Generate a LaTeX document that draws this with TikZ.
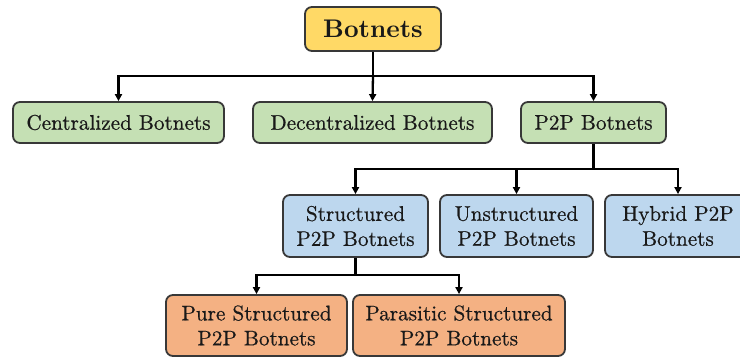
\documentclass[tikz,border=0pt]{standalone}
\usepackage{fontspec}
\setmainfont{lmroman10-regular.otf}[BoldFont=lmroman10-bold.otf, UprightFeatures={FakeBold=0.6}]
\usetikzlibrary{arrows.meta}
\definecolor{cyellow}{HTML}{FFD966}
\definecolor{cgreen}{HTML}{C5E0B4}
\definecolor{cblue}{HTML}{BDD7EE}
\definecolor{corange}{HTML}{F4B183}
\definecolor{cborder}{HTML}{383838}
\begin{document}
\begin{tikzpicture}[x=1pt,y=-1pt,
  box/.style={draw=cborder, line width=1.8pt, rounded corners=7pt, align=center,
    inner sep=0pt, font=\fontsize{21.2}{25}\selectfont, text=black!90},
  gbox/.style={box, fill=cgreen, minimum height=41pt},
  bbox/.style={box, fill=cblue, minimum height=62pt},
  obox/.style={box, fill=corange, minimum height=61pt},
  ln/.style={line width=2.3pt, black},
  arr/.style={ln, -{Triangle[length=7pt,width=7pt]}}]
\useasboundingbox (0,0) rectangle (740,358);
\node[box, fill=cyellow, minimum width=136pt, minimum height=44pt,
  font=\fontsize{25.5}{30}\selectfont\bfseries] (top) at (373,29) {Botnets};
\node[gbox, minimum width=211pt] (cen) at (118.5,122.5) {Centralized Botnets};
\node[gbox, minimum width=239pt] (dec) at (372.5,122.5) {Decentralized Botnets};
\node[gbox, minimum width=145pt] (p2p) at (593.5,122.5) {P2P Botnets};
\node[bbox, minimum width=145pt] (str) at (355.5,226) {Structured\\P2P Botnets};
\node[bbox, minimum width=153pt] (uns) at (516.5,226) {Unstructured\\P2P Botnets};
\node[bbox, minimum width=146pt] (hyb) at (678,226) {Hybrid P2P\\Botnets};
\node[obox, minimum width=181pt] (pure) at (256.5,325.5) {Pure Structured\\P2P Botnets};
\node[obox, minimum width=212pt] (para) at (459,325.5) {Parasitic Structured\\P2P Botnets};
\coordinate (b1) at (top.south |- 0,76);
\coordinate (b2) at (p2p.south |- 0,169);
\coordinate (b3) at (str.south |- 0,275);
\draw[ln] (top.south) -- (b1);
\draw[arr] (b1) -| (cen.north);
\draw[arr] (b1) -| (p2p.north);
\draw[arr] (b1) -- (dec.north);
\draw[ln] (p2p.south) -- (b2);
\draw[arr] (b2) -| (str.north);
\draw[arr] (b2) -| (uns.north);
\draw[arr] (b2) -| (hyb.north);
\draw[ln] (str.south) -- (b3);
\draw[arr] (b3) -| (pure.north);
\draw[arr] (b3) -| (para.north);
\end{tikzpicture}
\end{document}
